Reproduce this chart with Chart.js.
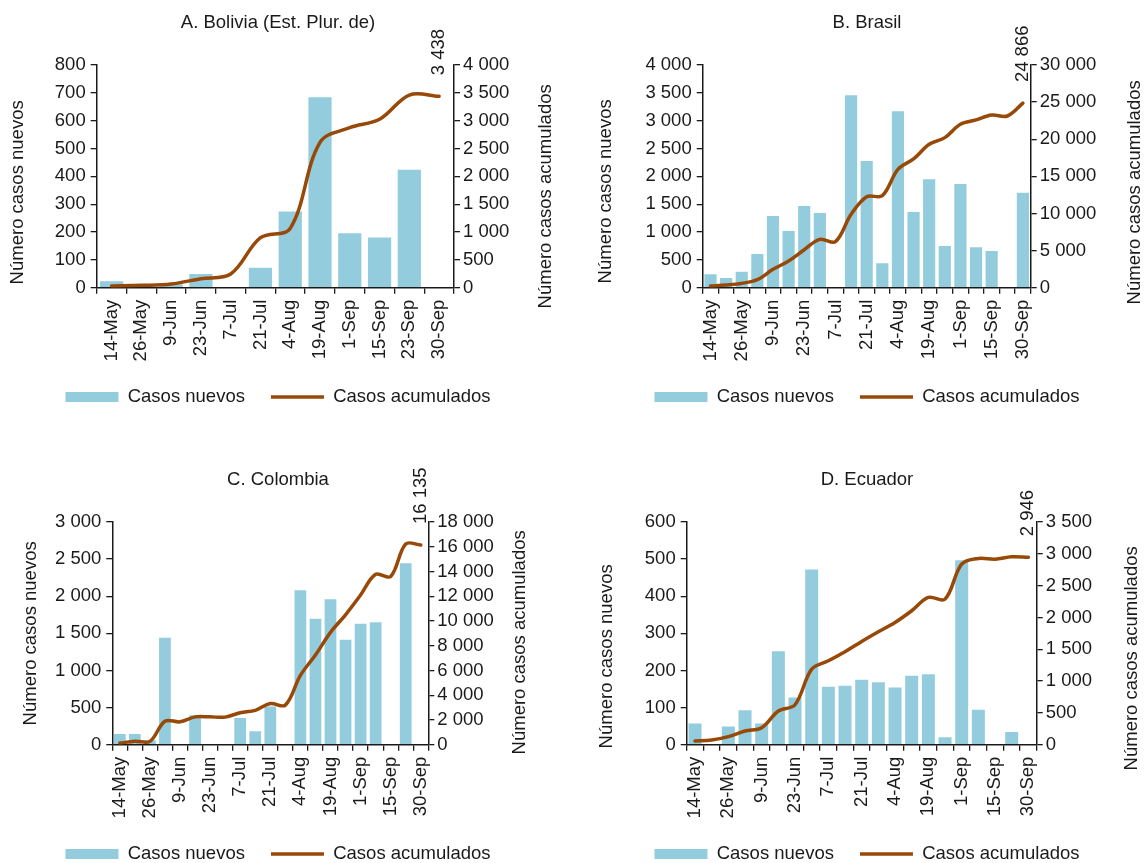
<!doctype html>
<html lang="es">
<head>
<meta charset="utf-8">
<title>Casos nuevos y acumulados</title>
<style>
  body { margin: 0; background: #fff; overflow: hidden; }
  #hoja { position: relative; width: 1144px; height: 863px; overflow: hidden; background: #fff; }
  #hoja canvas { position: absolute; }
</style>
</head>
<body>
<div id="hoja">
  <canvas id="bolivia" width="556" height="432" style="left:0px;top:0px"></canvas>
  <canvas id="brasil" width="554" height="432" style="left:590px;top:0px"></canvas>
  <canvas id="colombia" width="556" height="432" style="left:0px;top:457px"></canvas>
  <canvas id="ecuador" width="554" height="432" style="left:590px;top:457px"></canvas>
</div>
<script src="https://cdn.jsdelivr.net/npm/chart.js"></script>
<script>
// fechas (Bolivia quincenal, resto semanal)
const fechasBolivia = ['14-May','26-May','9-Jun','23-Jun','7-Jul','21-Jul','4-Aug','19-Aug','1-Sep','15-Sep','23-Sep','30-Sep'];
const fechasSemana = ['14-May','19-May','26-May','2-Jun','9-Jun','16-Jun','23-Jun','30-Jun','7-Jul','14-Jul','21-Jul',
  '28-Jul','4-Aug','11-Aug','19-Aug','25-Aug','1-Sep','8-Sep','15-Sep','23-Sep','30-Sep'];

const boliviaNuevos = [23, 5, 12, 49, 0, 72, 274, 684, 196, 180, 424, 0];
const boliviaAcum = [30, 42, 66, 162, 245, 898, 1066, 2611, 2874, 3024, 3461, 3438];

const brasilNuevos = [240, 174, 287, 605, 1287, 1018, 1467, 1341, 0, 3455, 2275, 437, 3168, 1359, 1946, 749, 1862, 725, 659, 0, 1707];
const brasilAcum = [225, 360, 585, 1080, 2470, 3590, 5120, 6510, 6200, 9880, 12260, 12400, 15950, 17340, 19320, 20220, 22010, 22600, 23270, 23130, 24866];

const colombiaNuevos = [144, 144, 60, 1440, 0, 398, 0, 0, 358, 180, 515, 0, 2080, 1695, 1959, 1413, 1628, 1650, 0, 2446, 0];
const colombiaAcum = [130, 280, 270, 1900, 1850, 2250, 2250, 2230, 2580, 2780, 3330, 3200, 5600, 7250, 9080, 10500, 12100, 13770, 13600, 16220, 16135];

const ecuadorNuevos = [57, 0, 49, 93, 57, 252, 127, 472, 156, 159, 175, 168, 154, 186, 190, 20, 497, 94, 0, 34, 0];
const ecuadorAcum = [58, 73, 126, 215, 267, 529, 628, 1188, 1319, 1461, 1623, 1775, 1921, 2105, 2314, 2288, 2838, 2927, 2916, 2953, 2946];

// escalas [max, paso]
const ejeBolivia = [800, 100], ejeBolivia2 = [4000, 500];
const ejeBrasil = [4000, 500], ejeBrasil2 = [30000, 5000];
const ejeColombia = [3000, 500], ejeColombia2 = [18000, 2000];
const ejeEcuador = [600, 100], ejeEcuador2 = [3500, 500];

const AZUL = '#93CDDD';
const CAFE = '#984807';
const NEGRO = '#1a1a1a';
const TEXTO = '#1a1a1a';
const TAM = 18.5;

Chart.defaults.font.family = '"Liberation Sans", Arial, sans-serif';
Chart.defaults.font.size = TAM;
Chart.defaults.color = TEXTO;

const fmt = v => String(v).replace(/\B(?=(\d{3})+(?!\d))/g, ' ');

// titulos de ejes y rotulo del ultimo valor
const extras = {
  id: 'extras',
  afterDatasetsDraw(chart, args, o) {
    const ctx = chart.ctx;
    const meta = chart.getDatasetMeta(1);
    const n = meta.data.length - 1;
    const pt = meta.data[n];
    ctx.save();
    ctx.font = TAM + 'px "Liberation Sans", Arial, sans-serif';
    ctx.fillStyle = TEXTO;
    ctx.translate(pt.x, pt.y - 21);
    ctx.rotate(-Math.PI / 2);
    ctx.textAlign = 'left';
    ctx.textBaseline = 'middle';
    ctx.fillText(fmt(chart.data.datasets[1].data[n]), 0, 0);
    ctx.restore();
  },
  afterDraw(chart, args, o) {
    const ctx = chart.ctx;
    const a = chart.chartArea;
    const mid = (a.top + a.bottom) / 2;
    ctx.save();
    ctx.font = TAM + 'px "Liberation Sans", Arial, sans-serif';
    ctx.fillStyle = TEXTO;
    ctx.textAlign = 'center';
    ctx.textBaseline = 'middle';
    ctx.save();
    ctx.translate(a.left - o.izq[0], mid + o.izq[1]);
    ctx.rotate(-Math.PI / 2);
    ctx.fillText('Número casos nuevos', 0, 0);
    ctx.restore();
    ctx.translate(a.right + o.der[0], mid + o.der[1]);
    ctx.rotate(-Math.PI / 2);
    ctx.fillText('Número casos acumulados', 0, 0);
    ctx.restore();
  }
};

function panel(id, p) {
  const semanal = p.fechas.length > 12;
  return new Chart(document.getElementById(id), {
    type: 'bar',
    data: {
      labels: p.fechas,
      datasets: [
        {
          label: 'Casos nuevos',
          data: p.nuevos,
          backgroundColor: AZUL,
          barPercentage: 0.78,
          categoryPercentage: 1,
          yAxisID: 'y',
          order: 2
        },
        {
          type: 'line',
          label: 'Casos acumulados',
          data: p.acum,
          borderColor: CAFE,
          backgroundColor: CAFE,
          borderWidth: 3.5,
          borderCapStyle: 'round',
          borderJoinStyle: 'round',
          pointRadius: 0,
          tension: 0.35,
          yAxisID: 'y2',
          order: 1
        }
      ]
    },
    options: {
      responsive: false,
      animation: false,
      devicePixelRatio: 1,
      layout: { padding: { top: 0, left: 0, right: 0, bottom: 15.8 } },
      plugins: {
        title: {
          display: true,
          text: p.titulo,
          color: TEXTO,
          font: { size: TAM, weight: 'normal' },
          padding: { top: 12, bottom: 30.8 }
        },
        legend: {
          position: 'bottom',
          labels: {
            usePointStyle: true,
            pointStyleWidth: 53,
            boxHeight: 10,
            padding: 26,
            color: TEXTO,
            font: { size: TAM },
            sort: (a, b) => a.datasetIndex - b.datasetIndex,
            generateLabels(chart) {
              return Chart.defaults.plugins.legend.labels.generateLabels(chart).map(it => {
                const barra = it.datasetIndex === 0;
                it.pointStyle = barra ? 'rect' : 'line';
                it.lineWidth = barra ? 0 : 3.5;
                it.strokeStyle = barra ? AZUL : CAFE;
                it.fillStyle = barra ? AZUL : CAFE;
                return it;
              });
            }
          }
        },
        tooltip: { enabled: false },
        extras: { izq: p.tituloIzq, der: p.tituloDer }
      },
      scales: {
        x: {
          grid: { display: true, drawOnChartArea: false, drawTicks: true, tickLength: 6, color: NEGRO, lineWidth: 1.3, offset: true },
          border: { display: true, color: NEGRO, width: 1.5 },
          ticks: {
            autoSkip: false,
            minRotation: 90,
            maxRotation: 90,
            padding: 6,
            color: TEXTO,
            font: { size: TAM },
            callback(v, i) { return (semanal && i % 2) ? '' : this.getLabelForValue(v); }
          },
          afterFit(s) { s.height = 74; }
        },
        y: {
          position: 'left',
          min: 0,
          max: p.eje[0],
          grid: { display: true, drawOnChartArea: false, drawTicks: true, tickLength: 6, color: NEGRO, lineWidth: 1.3 },
          border: { display: true, color: NEGRO, width: 1.5 },
          ticks: { autoSkip: false, stepSize: p.eje[1], padding: 5, color: TEXTO, font: { size: TAM }, callback: v => fmt(v) },
          afterFit(s) { s.width = p.anchoIzq; }
        },
        y2: {
          position: 'right',
          min: 0,
          max: p.eje2[0],
          grid: { display: true, drawOnChartArea: false, drawTicks: true, tickLength: 6, color: NEGRO, lineWidth: 1.3 },
          border: { display: true, color: NEGRO, width: 1.5 },
          ticks: { autoSkip: false, stepSize: p.eje2[1], padding: 3, color: TEXTO, font: { size: TAM }, callback: v => fmt(v) },
          afterFit(s) { s.width = p.anchoDer; }
        }
      }
    },
    plugins: [extras]
  });
}

panel('bolivia', {
  titulo: 'A. Bolivia (Est. Plur. de)', fechas: fechasBolivia, nuevos: boliviaNuevos, acum: boliviaAcum,
  eje: ejeBolivia, eje2: ejeBolivia2, anchoIzq: 96.7, anchoDer: 102, tituloIzq: [79, 16], tituloDer: [92, 20]
});
panel('brasil', {
  titulo: 'B. Brasil', fechas: fechasSemana, nuevos: brasilNuevos, acum: brasilAcum,
  eje: ejeBrasil, eje2: ejeBrasil2, anchoIzq: 112.7, anchoDer: 113.3, tituloIzq: [97, 15], tituloDer: [104, 16]
});
panel('colombia', {
  titulo: 'C. Colombia', fechas: fechasSemana, nuevos: colombiaNuevos, acum: colombiaAcum,
  eje: ejeColombia, eje2: ejeColombia2, anchoIzq: 112.3, anchoDer: 127.7, tituloIzq: [81, 0], tituloDer: [92, 9]
});
panel('ecuador', {
  titulo: 'D. Ecuador', fechas: fechasSemana, nuevos: ecuadorNuevos, acum: ecuadorAcum,
  eje: ejeEcuador, eje2: ejeEcuador2, anchoIzq: 96.7, anchoDer: 107.3, tituloIzq: [80, 23], tituloDer: [95, 25]
});
</script>
</body>
</html>
